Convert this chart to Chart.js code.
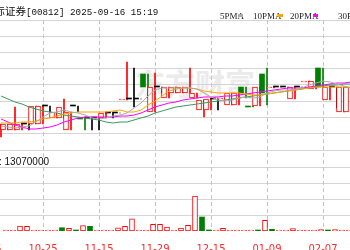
<!DOCTYPE html>
<html><head><meta charset="utf-8">
<script src="https://cdn.jsdelivr.net/npm/chart.js@4/dist/chart.umd.min.js"></script>
<style>
html,body{margin:0;padding:0;background:#fff;}
#wrap{position:relative;width:350px;height:250px;overflow:hidden;background:#fff;}
canvas{position:absolute;left:0;top:0;}
.t{position:absolute;white-space:nowrap;line-height:1;}
.mk{position:absolute;width:5px;height:3px;}
</style></head><body>
<div id="wrap">
<div class="t" style="left:135px;top:60px;font:bold 30px 'Noto Sans CJK SC';color:#ebebeb;">东方财富</div>
<canvas id="c" width="350" height="250"></canvas>
<div class="t" style="left:-37px;top:2px;color:#111;"><span style="font:10.5px 'Noto Sans CJK SC';">西证国际证券</span><span style="font:9.2px 'Liberation Mono';">[00812] 2025-09-16 15:19</span></div>
<div class="t" style="left:220px;top:11px;font:9px 'Liberation Sans Narrow';color:#222;">5PMA</div>
<div class="mk" style="left:238px;top:14px;background:#aaaaaa;"></div>
<div class="t" style="left:253px;top:11px;font:9px 'Liberation Sans Narrow';color:#222;">10PMA</div>
<div class="mk" style="left:278px;top:14px;background:#ffa500;"></div>
<div class="t" style="left:290px;top:11px;font:9px 'Liberation Sans Narrow';color:#222;">20PMA</div>
<div class="mk" style="left:313px;top:14px;background:#ff00ff;"></div>
<div class="t" style="left:338px;top:11px;font:9px 'Liberation Sans Narrow';color:#222;">30PMA</div>
<div class="t" style="left:-31px;top:155px;font:10px 'Liberation Sans';color:#111;">成交量: 13070000</div>
</div>
<script>
// ---- data ----
const idx = [0,1,2,3,4,5,6,7,8,9,10,11,12,13,14,15,16,17,18,19,20,21,22,23,24,25,26,27,28,29,30,31,32,33,34,35,36,37,38,39,40,41,42,43,44,45,46,47,48,49,50];
const openP  = [0.452,0.480,0.480,0.480,0.504,0.504,0.504,0.576,0.528,0.528,0.480,0.576,0.528,0.528,0.528,0.528,0.548,0.548,0.600,0.604,0.604,0.704,0.552,0.652,0.608,0.628,0.628,0.628,0.608,0.560,0.560,0.604,0.604,0.580,0.580,0.652,0.576,0.576,0.704,0.648,0.652,0.652,0.604,0.652,0.672,0.644,0.728,0.600,0.652,0.552,0.552];
const closeP = [0.504,0.504,0.504,0.504,0.504,0.576,0.576,0.576,0.552,0.572,0.552,0.576,0.524,0.528,0.528,0.548,0.548,0.548,0.602,0.604,0.604,0.652,0.652,0.652,0.652,0.652,0.652,0.652,0.628,0.600,0.604,0.604,0.608,0.628,0.628,0.628,0.572,0.652,0.628,0.652,0.652,0.652,0.652,0.652,0.676,0.676,0.652,0.652,0.652,0.652,0.652];
const highP  = [0.504,0.504,0.572,0.504,0.504,0.576,0.576,0.576,0.552,0.604,0.552,0.576,0.528,0.528,0.528,0.548,0.548,0.548,0.752,0.728,0.604,0.704,0.708,0.652,0.652,0.652,0.652,0.728,0.628,0.600,0.604,0.604,0.608,0.628,0.628,0.652,0.576,0.652,0.728,0.652,0.652,0.652,0.652,0.652,0.676,0.676,0.728,0.652,0.652,0.652,0.652];
const lowP   = [0.452,0.480,0.480,0.480,0.480,0.504,0.504,0.552,0.528,0.528,0.480,0.552,0.480,0.480,0.480,0.528,0.528,0.548,0.600,0.572,0.604,0.608,0.552,0.628,0.608,0.628,0.628,0.628,0.608,0.532,0.560,0.560,0.604,0.580,0.580,0.608,0.572,0.576,0.580,0.648,0.652,0.652,0.604,0.652,0.672,0.644,0.652,0.600,0.568,0.552,0.552];
const prevClose0 = 0.452;
const volume = [200000,200000,1040000,970000,200000,200000,200000,200000,680000,560000,210000,1100000,970000,200000,200000,200000,680000,970000,2550000,200000,200000,1380000,1380000,830000,200000,620000,1180000,7260000,2900000,210000,200000,560000,200000,200000,200000,200000,200000,2220000,350000,200000,200000,480000,200000,200000,200000,310000,210000,310000,200000,200000,200000];
const ma5  = [0.496,0.492,0.488,0.492,0.496,0.512,0.532,0.548,0.552,0.560,0.552,0.548,0.540,0.528,0.524,0.528,0.536,0.540,0.548,0.568,0.588,0.616,0.640,0.648,0.648,0.648,0.648,0.648,0.644,0.628,0.612,0.600,0.596,0.600,0.608,0.612,0.608,0.612,0.628,0.636,0.640,0.640,0.644,0.648,0.660,0.668,0.676,0.672,0.664,0.656,0.648];
const ma10 = [0.508,0.508,0.508,0.512,0.512,0.516,0.524,0.528,0.536,0.544,0.548,0.552,0.552,0.552,0.552,0.552,0.556,0.560,0.552,0.552,0.560,0.580,0.596,0.616,0.636,0.644,0.648,0.648,0.644,0.636,0.632,0.628,0.628,0.628,0.628,0.624,0.620,0.620,0.624,0.628,0.632,0.636,0.640,0.644,0.648,0.652,0.652,0.652,0.652,0.652,0.652];
const ma20 = [0.524,0.512,0.500,0.492,0.484,0.484,0.488,0.492,0.500,0.512,0.520,0.528,0.532,0.532,0.532,0.532,0.532,0.536,0.536,0.540,0.548,0.560,0.572,0.580,0.588,0.592,0.600,0.604,0.608,0.612,0.612,0.612,0.616,0.616,0.620,0.624,0.628,0.632,0.636,0.640,0.644,0.648,0.648,0.648,0.652,0.656,0.660,0.664,0.668,0.668,0.672];
const ma30 = [0.616,0.604,0.592,0.584,0.572,0.564,0.556,0.552,0.548,0.540,0.536,0.532,0.528,0.524,0.520,0.512,0.508,0.512,0.512,0.520,0.528,0.536,0.548,0.556,0.564,0.572,0.576,0.580,0.584,0.588,0.592,0.596,0.600,0.604,0.608,0.612,0.616,0.620,0.624,0.628,0.632,0.636,0.640,0.644,0.648,0.652,0.656,0.660,0.660,0.664,0.664];
const tickIdx = [-2,6,14,22,30,38,46];
const tickLabels = ['10-15','10-25','11-15','11-29','12-15','01-09','02-07'];
const priceGrid = [0.400,0.465,0.530,0.595,0.660,0.725,0.790,0.855,0.920];
const volGrid = [3267500,6535000,9802500,13070000];

// ---- colours ----
const RED='#ff0000', GREEN='#008000', BLACK='#000000';
const candleColor = i => closeP[i]>openP[i] ? RED : (closeP[i]<openP[i] ? GREEN : BLACK);
const volColor = i => { const pc = i===0 ? prevClose0 : closeP[i-1]; return closeP[i]>=pc ? RED : GREEN; };

const pts = arr => idx.map((k,i)=>({x:k,y:arr[i]}));

// dashed vertical grid at the x-axis ticks
const vGrid = {id:'vgrid', beforeDatasetsDraw(chart){
  const {ctx, chartArea:a, scales:{x}} = chart;
  ctx.save(); ctx.strokeStyle='#c4c4c4'; ctx.lineWidth=1; ctx.setLineDash([4,3]);
  x.ticks.forEach(t=>{ const px=Math.round(x.getPixelForValue(t.value))+0.5;
    ctx.beginPath(); ctx.moveTo(px,a.top); ctx.lineTo(px,a.bottom); ctx.stroke(); });
  ctx.restore(); }};

new Chart(document.getElementById('c'), {
  type:'bar',
  plugins:[vGrid],
  data:{datasets:[
    {type:'line',label:'MA5',data:pts(ma5),borderColor:'#aaaaaa',borderWidth:1,pointRadius:0,order:1,yAxisID:'y'},
    {type:'line',label:'MA10',data:pts(ma10),borderColor:'#ffa500',borderWidth:1,pointRadius:0,order:1,yAxisID:'y'},
    {type:'line',label:'MA20',data:pts(ma20),borderColor:'#ff00ff',borderWidth:1,pointRadius:0,order:1,yAxisID:'y'},
    {type:'line',label:'MA30',data:pts(ma30),borderColor:'#3a9a5c',borderWidth:1,pointRadius:0,order:1,yAxisID:'y'},
    {label:'body',data:idx.map((k,i)=>({x:k,y:[openP[i],closeP[i]]})),yAxisID:'y',order:3,
      barThickness:5,minBarLength:1,borderSkipped:false,
      borderWidth:ctx=>candleColor(ctx.dataIndex)===RED?1:0,
      borderColor:ctx=>candleColor(ctx.dataIndex),
      backgroundColor:ctx=>candleColor(ctx.dataIndex)===RED?'#ffffff':candleColor(ctx.dataIndex)},
    {label:'wick',data:idx.map((k,i)=>({x:k,y:[lowP[i],highP[i]]})),yAxisID:'y',order:4,
      barThickness:1,minBarLength:0,borderWidth:0,
      backgroundColor:ctx=>candleColor(ctx.dataIndex)},
    {label:'vol',data:idx.map((k,i)=>({x:k,y:volume[i]})),yAxisID:'yv',order:5,
      barThickness:5,minBarLength:1,borderSkipped:false,
      borderWidth:ctx=>volColor(ctx.dataIndex)===RED?1:0,
      borderColor:ctx=>volColor(ctx.dataIndex),
      backgroundColor:ctx=>volColor(ctx.dataIndex)===RED?'#ffffff':volColor(ctx.dataIndex)}
  ]},
  options:{
    responsive:false,animation:false,events:[],devicePixelRatio:1,
    layout:{padding:{top:20,left:0,right:0,bottom:0}},
    plugins:{legend:{display:false},tooltip:{enabled:false}},
    scales:{
      x:{type:'linear',min:-1/7,max:349/7,offset:false,
        afterBuildTicks:s=>{s.ticks=tickIdx.map(v=>({value:v}));},
        afterFit:s=>{s.height=19;s.paddingLeft=0;s.paddingRight=0;},
        grid:{display:false},
        border:{display:false},
        ticks:{autoSkip:false,maxRotation:0,padding:4,color:'#ff2a2a',font:{family:'DejaVu Sans',size:10},
          callback:v=>tickLabels[tickIdx.indexOf(v)]}},
      y:{position:'left',min:0.076,max:0.92,
        afterBuildTicks:s=>{s.ticks=priceGrid.map(v=>({value:v}));},
        afterFit:s=>{s.width=0;},
        grid:{color:'#d4d4d4',drawTicks:false,lineWidth:1},
        border:{display:false},ticks:{display:false}},
      yv:{position:'left',min:0,max:43770000,
        afterBuildTicks:s=>{s.ticks=volGrid.map(v=>({value:v}));},
        afterFit:s=>{s.width=0;},
        grid:{color:'#d4d4d4',drawTicks:false,lineWidth:1},
        border:{display:false},ticks:{display:false}}
    }
  }
});
</script>
</body></html>
